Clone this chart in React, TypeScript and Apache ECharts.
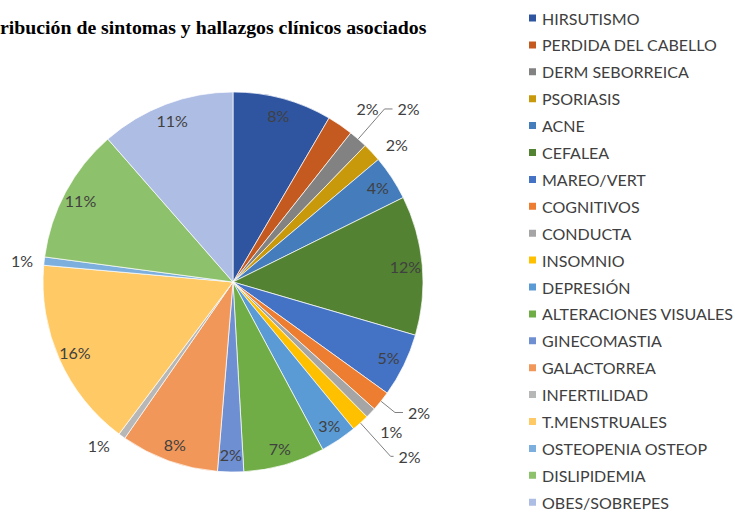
import React, { useEffect, useRef } from "react";
import * as echarts from "echarts";

const titleText = "ribución de sintomas y hallazgos clínicos asociados";

const categories = [
  "HIRSUTISMO",
  "PERDIDA DEL CABELLO",
  "DERM SEBORREICA",
  "PSORIASIS",
  "ACNE",
  "CEFALEA",
  "MAREO/VERT",
  "COGNITIVOS",
  "CONDUCTA",
  "INSOMNIO",
  "DEPRESIÓN",
  "ALTERACIONES VISUALES",
  "GINECOMASTIA",
  "GALACTORREA",
  "INFERTILIDAD",
  "T.MENSTRUALES",
  "OSTEOPENIA OSTEOP",
  "DISLIPIDEMIA",
  "OBES/SOBREPES",
];

const shares = [8.4, 2.2, 1.6, 1.6, 3.8, 11.8, 5.4, 1.7, 0.9, 1.5, 3.1, 6.9, 2.2, 8.3, 0.6, 16.1, 0.7, 11.4, 11.4];

const colors = [
  "#2F55A0",
  "#C55A20",
  "#828282",
  "#C8990A",
  "#447CBC",
  "#538233",
  "#4472C4",
  "#ED7D31",
  "#A5A5A5",
  "#FFC000",
  "#5B9BD5",
  "#70AD47",
  "#6F8FD3",
  "#F1975A",
  "#B7B7B7",
  "#FFC966",
  "#7CAFDD",
  "#8EC16C",
  "#AEBDE3",
];

// slices whose labels sit outside the pie (style config, not data)
const outsideLabel: Record<string, { length: number; length2: number; line: boolean; offset?: number[] }> = {
  "PERDIDA DEL CABELLO": { length: 20, length2: 0, line: false },
  "DERM SEBORREICA": { length: 40, length2: 8, line: true },
  PSORIASIS: { length: 12, length2: 0, line: false },
  COGNITIVOS: { length: 18, length2: 8, line: true },
  CONDUCTA: { length: 20, length2: 0, line: false, offset: [-10, 5] },
  INSOMNIO: { length: 45, length2: 3, line: true },
  INFERTILIDAD: { length: 12, length2: 0, line: false },
  "OSTEOPENIA OSTEOP": { length: 6, length2: 0, line: false },
};

const CENTER = [233, 282];
const R = 190;
const labelFont = { fontFamily: "Lato", fontSize: 16, color: "#404040" };
const fmt = (p: any) => Math.round(p.percent) + "%";

export default function App() {
  const ref = useRef<HTMLDivElement>(null);
  useEffect(() => {
    if (!ref.current) return;
    const chart = echarts.init(ref.current, null, { renderer: "svg" });

    const mainData = categories.map((name, i) => {
      const o = outsideLabel[name];
      return {
        name,
        value: shares[i],
        itemStyle: { color: colors[i] },
        label: o ? (o.offset ? { show: true, offset: o.offset } : { show: true }) : { show: false },
        labelLine: o
          ? { show: o.line, length: o.length, length2: o.length2 }
          : { show: false },
      };
    });

    const ringData = categories.map((name, i) => ({
      name,
      value: shares[i],
      label: { show: !outsideLabel[name] },
    }));

    chart.setOption({
      animation: false,
      title: {
        text: titleText,
        left: 0,
        top: 17,
        padding: 0,
        textStyle: {
          fontFamily: "Liberation Serif",
          fontWeight: "bold",
          fontSize: 19.8,
          color: "#000",
        },
      },
      legend: {
        orient: "vertical",
        left: 527,
        top: 10,
        height: 520,
        padding: 0,
        icon: "rect",
        itemWidth: 9,
        itemHeight: 9,
        itemGap: 10.9,
        data: categories,
        textStyle: { fontFamily: "Lato", fontSize: 16, lineHeight: 16, color: "#404040" },
      },
      series: [
        {
          type: "pie",
          center: CENTER,
          radius: [0, R],
          startAngle: 90,
          clockwise: true,
          avoidLabelOverlap: false,
          labelLayout: { hideOverlap: false },
          itemStyle: { borderColor: "#fff", borderWidth: 0.7 },
          label: { position: "outside", formatter: fmt, ...labelFont },
          labelLine: { lineStyle: { color: "#7F7F7F", width: 1 } },
          emphasis: { disabled: true },
          data: mainData,
        },
        {
          type: "pie",
          center: CENTER,
          radius: [R - 40, R],
          startAngle: 90,
          clockwise: true,
          silent: true,
          legendHoverLink: false,
          avoidLabelOverlap: false,
          labelLayout: { hideOverlap: false },
          itemStyle: { color: "rgba(0,0,0,0)", borderWidth: 0 },
          label: { position: "inside", formatter: fmt, ...labelFont },
          labelLine: { show: false },
          emphasis: { disabled: true },
          data: ringData,
        },
      ],
    });
    return () => chart.dispose();
  }, []);
  return (
    <div
      ref={ref}
      style={{ position: "fixed", left: 0, top: 0, width: 735, height: 512, background: "#fff" }}
    />
  );
}
